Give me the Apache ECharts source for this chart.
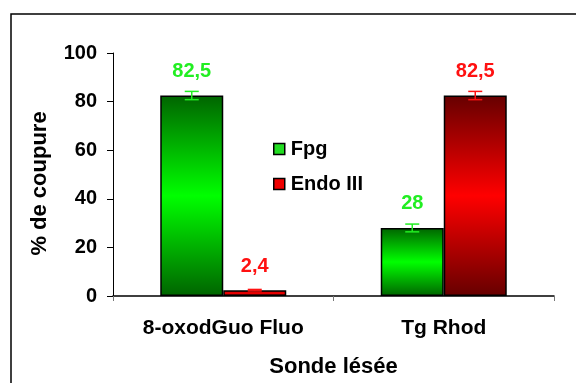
<!DOCTYPE html>
<html>
<head>
<meta charset="utf-8">
<script src="https://cdn.jsdelivr.net/npm/echarts@6/dist/echarts.min.js"></script>
<style>
  html, body { margin: 0; padding: 0; background: #fff; }
  #chart { width: 576px; height: 383px; }
</style>
</head>
<body>
<div id="chart"></div>
<script>
// data
var categories = ['8-oxodGuo Fluo', 'Tg Rhod'];
var fpgValues = [82.5, 28];
var endoValues = [2.4, 82.5];
var fpgErrors = [1.7, 1.6];
var endoErrors = [0.3, 1.7];
var yTicks = [0, 20, 40, 60, 80, 100];

var chart = echarts.init(document.getElementById('chart'));
var font = 'Liberation Sans, Arial, sans-serif';

function gradient(dark, bright) {
  return new echarts.graphic.LinearGradient(0, 0, 0, 1, [
    {offset: 0, color: dark},
    {offset: 0.5, color: bright},
    {offset: 1, color: dark}
  ]);
}

// error bars drawn at the centre of each bar
function errorSeries(name, values, errors, color, offset) {
  return {
    name: name + ' err',
    type: 'custom',
    z: 10,
    data: values.map(function (v, i) { return [i, v, errors[i]]; }),
    encode: {x: 0, y: 1},
    renderItem: function (params, api) {
      var i = api.value(0), v = api.value(1), e = api.value(2);
      var hi = api.coord([i, v + e]);
      var lo = api.coord([i, v - e]);
      var x = hi[0] + offset;
      var cap = 7;
      var style = {stroke: color, lineWidth: 1.5};
      return {
        type: 'group',
        children: [
          {type: 'line', shape: {x1: x, y1: hi[1], x2: x, y2: lo[1]}, style: style},
          {type: 'line', shape: {x1: x - cap, y1: hi[1], x2: x + cap, y2: hi[1]}, style: style},
          {type: 'line', shape: {x1: x - cap, y1: lo[1], x2: x + cap, y2: lo[1]}, style: style}
        ]
      };
    }
  };
}

function valueLabel(color) {
  return {
    show: true,
    position: 'top',
    distance: 14,
    color: color,
    fontFamily: font,
    fontWeight: 'bold',
    fontSize: 20,
    formatter: function (p) { return String(p.value).replace('.', ','); }
  };
}

var option = {
  backgroundColor: '#fff',
  animation: false,
  graphic: [{
    type: 'rect',
    shape: {x: 11, y: 14, width: 700, height: 500},
    style: {fill: 'none', stroke: '#000', lineWidth: 1.5}
  }],
  grid: {left: 113, right: 22, top: 53, bottom: 85},
  legend: {
    orient: 'vertical',
    left: 268,
    top: 134,
    itemGap: 15,
    itemWidth: 11,
    itemHeight: 11,
    icon: 'rect',
    textStyle: {fontFamily: font, fontWeight: 'bold', fontSize: 20, color: '#000', padding: [0, 0, 0, 1]},
    data: [
      {name: 'Fpg', itemStyle: {color: '#22dd22', borderColor: '#000', borderWidth: 1.5}},
      {name: 'Endo III', itemStyle: {color: '#ee0000', borderColor: '#000', borderWidth: 1.5}}
    ]
  },
  xAxis: {
    type: 'category',
    data: categories,
    name: 'Sonde lésée',
    nameLocation: 'middle',
    nameGap: 60,
    nameTextStyle: {fontFamily: font, fontWeight: 'bold', fontSize: 22, color: '#000'},
    axisLine: {lineStyle: {color: '#000', width: 1.5}},
    axisTick: {show: true, length: 5, lineStyle: {color: '#777'}},
    axisLabel: {margin: 22, fontFamily: font, fontWeight: 'bold', fontSize: 21, color: '#000'}
  },
  yAxis: {
    type: 'value',
    min: yTicks[0],
    max: yTicks[yTicks.length - 1],
    interval: 20,
    name: '% de coupure',
    nameLocation: 'middle',
    nameGap: 62,
    nameTextStyle: {fontFamily: font, fontWeight: 'bold', fontSize: 22, color: '#000', padding: [0, 18, 0, 0]},
    axisLine: {show: true, lineStyle: {color: '#000', width: 1}},
    axisTick: {show: true, length: 6, lineStyle: {color: '#000'}},
    axisLabel: {margin: 16, fontFamily: font, fontWeight: 'bold', fontSize: 20, color: '#000'},
    splitLine: {show: false}
  },
  series: [
    {
      name: 'Fpg',
      type: 'bar',
      barWidth: 63,
      barGap: 0,
      data: fpgValues,
      itemStyle: {color: gradient('#006400', '#00ff00'), borderColor: '#000', borderWidth: 1.5},
      label: valueLabel('#22ee22')
    },
    {
      name: 'Endo III',
      type: 'bar',
      barWidth: 63,
      barGap: 0,
      data: endoValues,
      itemStyle: {color: gradient('#660000', '#ff0000'), borderColor: '#000', borderWidth: 1.5},
      label: valueLabel('#ff1111')
    },
    errorSeries('Fpg', fpgValues, fpgErrors, '#22ee22', -31.5),
    errorSeries('Endo III', endoValues, endoErrors, '#ff1111', 31.5)
  ]
};

chart.setOption(option);
</script>
</body>
</html>
